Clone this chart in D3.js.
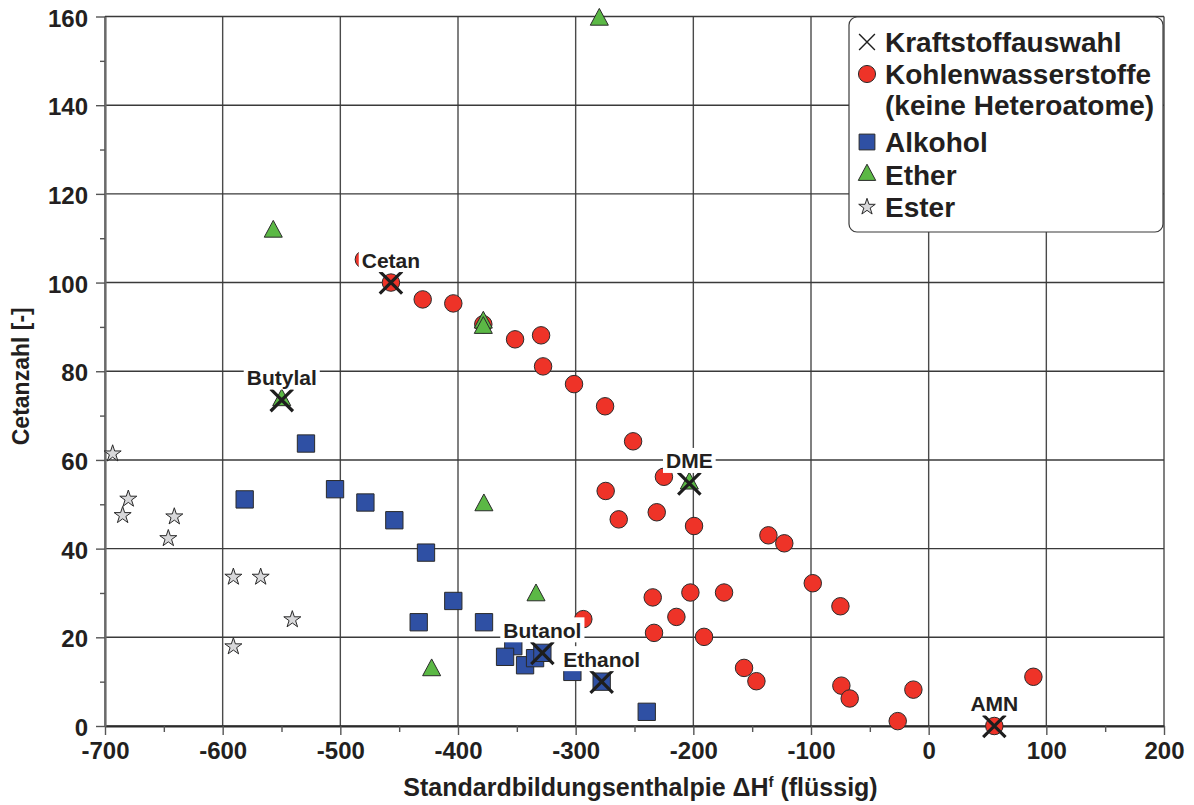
<!DOCTYPE html>
<html>
<head>
<meta charset="utf-8">
<script src="https://cdn.jsdelivr.net/npm/d3@7"></script>
<style>
  html, body { margin: 0; padding: 0; background: #fff; }
  svg { display: block; font-family: "Liberation Sans", Arial, Helvetica, sans-serif; font-weight: bold; }
</style>
</head>
<body>
<svg id="chart" width="1194" height="805"></svg>
<script>
// ---------- data ----------
const xTicks = [-700, -600, -500, -400, -300, -200, -100, 0, 100, 200];
const xMinorTicks = [-650, -550, -450, -350, -250, -150, -50, 50, 150];
const yTicks = [0, 20, 40, 60, 80, 100, 120, 140, 160];
const yMinorTicks = [10, 30, 50, 70, 90, 110, 130, 150];

const xTitle = "Standardbildungsenthalpie \u0394H";
const xTitleSup = "f";
const xTitleEnd = " (flüssig)";
const yTitle = "Cetanzahl [-]";

// Kohlenwasserstoffe (keine Heteroatome): [ΔHf, Cetanzahl]
const kohlenwasserstoffe = [
  [-480, 105.2], [-457, 100], [-430, 96.2], [-404, 95.3], [-378.5, 90.6],
  [-351.5, 87.2], [-329.4, 88.1], [-327.7, 81.1], [-301.4, 77.1], [-275, 72.1],
  [-251.2, 64.2], [-225, 56.2], [-274.5, 53.0], [-263.4, 46.6], [-231.1, 48.2],
  [-199.4, 45.1], [-136.2, 43.0], [-122.7, 41.2], [-98.5, 32.2], [-75, 27.0],
  [-74.2, 9.1], [-67.1, 6.2], [-26.3, 1.1], [-13, 8.2], [89, 11.1], [55.8, 0],
  [-234.5, 29.0], [-202.5, 30.1], [-173.9, 30.1], [-214.4, 24.6], [-233.4, 21.0],
  [-190.9, 20.1], [-156.9, 13.1], [-146.4, 10.1], [-293.5, 24.1]
];
// Alkohol
const alkohol = [
  [-353, 18.0], [-529.2, 63.7], [-581.3, 51.1], [-504.5, 53.4], [-478.7, 50.4],
  [-454.1, 46.4], [-427.2, 39.1], [-404, 28.2], [-433.4, 23.4], [-377.9, 23.4],
  [-360, 15.6], [-343, 13.7], [-334.5, 15.3], [-328.3, 16.5], [-302.8, 12.2],
  [-277.9, 10.0], [-239.6, 3.2]
];
// Ether
const ether = [
  [-279.9, 159.3], [-557, 111.5], [-378.5, 91.0], [-378.5, 89.8], [-549.8, 73.5],
  [-378, 49.8], [-333.7, 29.5], [-422.4, 12.6], [-203.4, 54.7]
];
// Ester
const ester = [
  [-693.5, 61.4], [-680.2, 51.2], [-685, 47.5], [-641.1, 47.2], [-646.2, 42.3],
  [-590.9, 33.6], [-567.7, 33.6], [-540.8, 24.0], [-590.9, 17.9]
];
// Kraftstoffauswahl (selected fuels)
const auswahlNames = ["Cetan", "Butylal", "DME", "Butanol", "Ethanol", "AMN"];
const auswahlX = [-457, -549.8, -203.4, -328.3, -277.9, 55.8];
const auswahlY = [100, 73.5, 54.7, 16.5, 10.0, 0];

const legendLabels = ["Kraftstoffauswahl", "Kohlenwasserstoffe", "(keine Heteroatome)", "Alkohol", "Ether", "Ester"];

// ---------- layout ----------
(function () {
const svg = d3.select("#chart");
const pLeft = 105, pRight = 1164, pTop = 16.5, pBottom = 726;
const x = d3.scaleLinear().domain([-700, 200]).range([pLeft, pRight]);
const y = d3.scaleLinear().domain([0, 160]).range([pBottom, pTop]);

const textCol = "#231f20";
const colors = { red: "#ee3328", blue: "#2f50a4", green: "#5bb845", star: "#d8d8da", stroke: "#2a2a2a" };

// grid
const grid = svg.append("g");
grid.selectAll("line.v").data(xTicks).join("line")
  .attr("x1", d => x(d)).attr("x2", d => x(d)).attr("y1", pTop).attr("y2", pBottom)
  .attr("stroke", "#4a4a4a").attr("stroke-width", 1.4);
grid.selectAll("line.h").data(yTicks).join("line")
  .attr("x1", pLeft).attr("x2", pRight).attr("y1", d => y(d)).attr("y2", d => y(d))
  .attr("stroke", "#3a3a3a").attr("stroke-width", 1.4);

// axes
const fmt = d => String(d);
const xAxis = svg.append("g").attr("transform", `translate(0,${pBottom})`)
  .call(d3.axisBottom(x).tickValues(xTicks).tickSize(9).tickSizeOuter(0).tickPadding(7).tickFormat(fmt));
const xAxisMinor = svg.append("g").attr("transform", `translate(0,${pBottom})`)
  .call(d3.axisBottom(x).tickValues(xMinorTicks).tickSize(6).tickSizeOuter(0).tickFormat(""));
const yAxis = svg.append("g").attr("transform", `translate(${pLeft},0)`)
  .call(d3.axisLeft(y).tickValues(yTicks).tickSize(9).tickSizeOuter(0).tickPadding(8).tickFormat(fmt));
const yAxisMinor = svg.append("g").attr("transform", `translate(${pLeft},0)`)
  .call(d3.axisLeft(y).tickValues(yMinorTicks).tickSize(5).tickSizeOuter(0).tickFormat(""));

[xAxis, xAxisMinor, yAxis, yAxisMinor].forEach(g => {
  g.selectAll("text").attr("font-size", 24).attr("font-weight", "bold").attr("fill", textCol)
    .attr("font-family", "Liberation Sans, Arial, sans-serif");
  g.selectAll(".tick line").attr("stroke", "#555").attr("stroke-width", 1.4);
});
yAxis.selectAll("text").attr("dy", "0.4em");
xAxis.select(".domain").attr("stroke", "#2a2a2a").attr("stroke-width", 2);
xAxisMinor.select(".domain").remove();
yAxis.select(".domain").attr("stroke", "#6a6a6a").attr("stroke-width", 2.2);
yAxisMinor.select(".domain").remove();

// axis titles
const xt = svg.append("text").attr("x", (pLeft + pRight) / 2 + 6).attr("y", 796)
  .attr("text-anchor", "middle").attr("font-size", 25).attr("fill", textCol);
xt.append("tspan").text(xTitle);
xt.append("tspan").attr("font-size", 15).attr("dy", -9).text(xTitleSup);
xt.append("tspan").attr("dy", 9).text(xTitleEnd);

svg.append("text").attr("transform", `translate(29,${(pTop + pBottom) / 2 + 5}) rotate(-90)`)
  .attr("text-anchor", "middle").attr("font-size", 23).attr("fill", textCol).text(yTitle);

// ---------- symbols ----------
const triType = {
  draw(ctx, size) {
    const b = Math.sqrt(size) * 1.06, h = b * 0.93;
    ctx.moveTo(0, -2 * h / 3);
    ctx.lineTo(b / 2, h / 3);
    ctx.lineTo(-b / 2, h / 3);
    ctx.closePath();
  }
};
const xType = {
  draw(ctx, size) {
    const r = Math.sqrt(size) / 2;
    ctx.moveTo(-r, -r); ctx.lineTo(r, r);
    ctx.moveTo(r, -r); ctx.lineTo(-r, r);
  }
};
const sym = (type, size) => d3.symbol().type(type).size(size)();

const marks = svg.append("g");
function drawSeries(data, type, size, fill) {
  marks.append("g").selectAll("path").data(data).join("path")
    .attr("transform", d => `translate(${x(d[0])},${y(d[1])})`)
    .attr("d", sym(type, size))
    .attr("fill", fill).attr("stroke", colors.stroke).attr("stroke-width", 1);
}
drawSeries(ester, d3.symbolStar, 90, colors.star);
drawSeries(alkohol, d3.symbolSquare, 300, colors.blue);
drawSeries(kohlenwasserstoffe, d3.symbolCircle, 240, colors.red);
drawSeries(ether, triType, 290, colors.green);

// selected fuels X
const sel = auswahlNames.map((n, i) => ({ name: n, x: auswahlX[i], y: auswahlY[i] }));
marks.append("g").selectAll("path").data(sel).join("path")
  .attr("transform", d => `translate(${x(d.x)},${y(d.y)})`)
  .attr("d", sym(xType, 500))
  .attr("fill", "none").attr("stroke", "#1e1e1e").attr("stroke-width", 3.2);

// labels with white background
const lab = svg.append("g");
sel.forEach(d => {
  const g = lab.append("g").attr("transform", `translate(${x(d.x)},${y(d.y) - 15})`);
  const t = g.append("text").attr("text-anchor", "middle").attr("font-size", 21)
    .attr("fill", textCol).text(d.name);
  const w = t.node().getComputedTextLength();
  g.insert("rect", "text").attr("x", -w / 2 - 3).attr("y", -20.5).attr("width", w + 6)
    .attr("height", 25).attr("fill", "#fff");
});

// ---------- legend ----------
const lg = svg.append("g");
lg.append("rect").attr("x", 849).attr("y", 17).attr("width", 314).attr("height", 215)
  .attr("rx", 8).attr("fill", "#fff").attr("stroke", "#3a3a3a").attr("stroke-width", 1.2);
const rowsY = [52, 84, 115, 152, 185, 217];
const symX = 867;
const legendSyms = [
  { type: xType, size: 250, fill: "none", stroke: "#1e1e1e", sw: 1.4 },
  { type: d3.symbolCircle, size: 230, fill: colors.red, stroke: colors.stroke, sw: 1 },
  null,
  { type: d3.symbolSquare, size: 250, fill: colors.blue, stroke: colors.stroke, sw: 1 },
  { type: triType, size: 270, fill: colors.green, stroke: colors.stroke, sw: 1 },
  { type: d3.symbolStar, size: 85, fill: colors.star, stroke: colors.stroke, sw: 1 }
];
legendLabels.forEach((l, i) => {
  lg.append("text").attr("x", 885).attr("y", rowsY[i]).attr("font-size", 28)
    .attr("fill", textCol).text(l);
  const s = legendSyms[i];
  if (s) {
    lg.append("path").attr("transform", `translate(${symX},${rowsY[i] - 10})`)
      .attr("d", sym(s.type, s.size)).attr("fill", s.fill)
      .attr("stroke", s.stroke).attr("stroke-width", s.sw);
  }
});
})();
</script>
</body>
</html>
